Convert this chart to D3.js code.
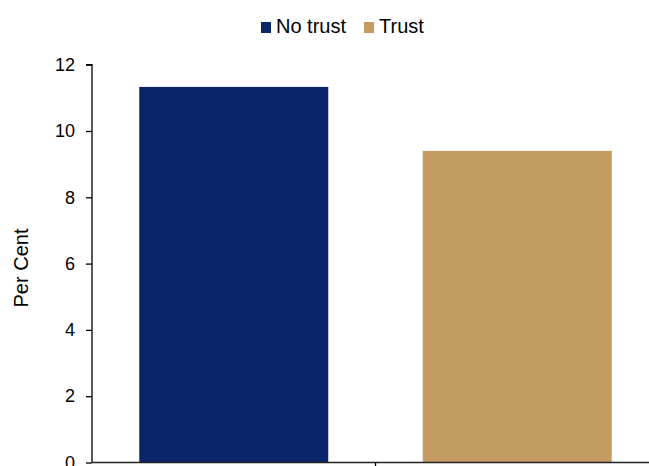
<!DOCTYPE html>
<html>
<head>
<meta charset="utf-8">
<script src="https://cdn.jsdelivr.net/npm/d3@7"></script>
<style>
  html, body { margin: 0; padding: 0; background: #fff; }
  svg { display: block; }
  text { font-family: "Liberation Sans", Arial, sans-serif; fill: #000; }
</style>
</head>
<body>
<div id="chart"></div>
<script>
// Share of respondents, by trust group
const categories = ["No trust", "Trust"];
const values = [11.33, 9.4];
const colors = ["#0b246b", "#c39b63"];
const yTicks = [0, 2, 4, 6, 8, 10, 12];

const width = 649, height = 466;
const margin = { top: 65, left: 92, bottom: 3 };
const plotRight = 659;

const svg = d3.select("#chart").append("svg")
  .attr("width", width)
  .attr("height", height);

const y = d3.scaleLinear()
  .domain([0, 12])
  .range([height - margin.bottom - 0.5, margin.top - 0.3]);

const x = d3.scaleBand()
  .domain(categories)
  .range([margin.left, plotRight])
  .paddingInner(0)
  .paddingOuter(0);

const barW = x.bandwidth() * 2 / 3;

// Bars
svg.append("g")
  .selectAll("rect")
  .data(categories)
  .join("rect")
  .attr("x", (d) => x(d) + (x.bandwidth() - barW) / 2)
  .attr("width", barW)
  .attr("y", (d, i) => y(values[i]))
  .attr("height", (d, i) => y(0) - y(values[i]))
  .attr("fill", (d, i) => colors[i]);

// Y axis
const yAxis = svg.append("g")
  .attr("transform", `translate(${margin.left},0)`)
  .call(d3.axisLeft(y).tickValues(yTicks).tickSize(6).tickPadding(11).tickFormat(d3.format("d")));
yAxis.select(".domain").attr("stroke", "#000").attr("stroke-width", 1.3)
  .attr("d", `M-6,${y(12)}H0V${y(0)}`);
yAxis.selectAll(".tick line").attr("stroke", "#000").attr("stroke-width", 1.3);
yAxis.selectAll(".tick text").attr("font-size", 18).attr("font-family", "Liberation Sans, Arial, sans-serif").attr("fill", "#000");

// X axis: ticks sit on category boundaries
const xAxis = svg.append("g")
  .attr("transform", `translate(0,${y(0)})`);
xAxis.append("line")
  .attr("x1", margin.left).attr("x2", plotRight)
  .attr("stroke", "#222").attr("stroke-width", 1.3);
xAxis.selectAll("line.tick")
  .data(categories.slice(1))
  .join("line")
  .attr("class", "tick")
  .attr("x1", (d) => x(d)).attr("x2", (d) => x(d))
  .attr("y1", 0).attr("y2", 6)
  .attr("stroke", "#000").attr("stroke-width", 1.3);

// Y axis title
svg.append("text")
  .attr("transform", "translate(28,268) rotate(-90)")
  .attr("text-anchor", "middle")
  .attr("font-size", 20)
  .text("Per Cent");

// Legend
const legend = svg.append("g").attr("transform", "translate(261,22)");
const legendX = [0, 103];
const items = legend.selectAll("g")
  .data(categories)
  .join("g")
  .attr("transform", (d, i) => `translate(${legendX[i]},0)`);
items.append("rect")
  .attr("width", 10).attr("height", 11)
  .attr("fill", (d, i) => colors[i]);
items.append("text")
  .attr("x", 15).attr("y", 11)
  .attr("font-size", 20)
  .text((d) => d);
</script>
</body>
</html>
